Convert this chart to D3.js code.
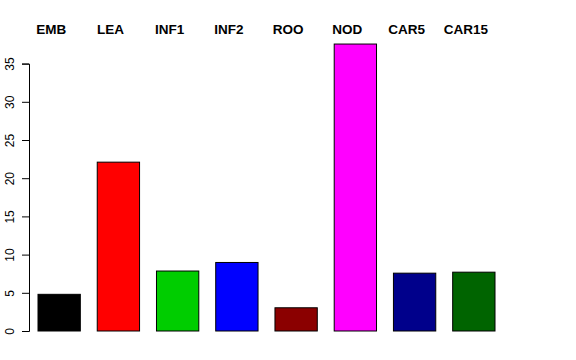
<!DOCTYPE html>
<meta charset="utf-8">
<style>
	body { margin: 0; background: #fff; }
	.bar { stroke: #000; stroke-width: 1; }
	.lab { font-family: "Liberation Sans", Arial, sans-serif; font-weight: bold; font-size: 13.5px; }
	.tick text { font-family: "Liberation Sans", Arial, sans-serif; font-size: 12px; }
</style>
<body>
<script src="https://d3js.org/d3.v7.min.js"></script>
<script>
var categories = ["EMB", "LEA", "INF1", "INF2", "ROO", "NOD", "CAR5", "CAR15"];
var values = [4.8, 22.1, 7.85, 8.97, 3.04, 37.56, 7.57, 7.7];
var colors = ["#000000", "#ff0000", "#00cd00", "#0000ff", "#8b0000", "#ff00ff", "#00008b", "#006400"];
var yTicks = [0, 5, 10, 15, 20, 25, 30, 35];

(function(){
	var width = 576, height = 360;

	var svg = d3.select("body").append("svg")
		.attr("width", width)
		.attr("height", height);

	// R barplot, space = 0.4
	var x = d3.scaleBand()
		.domain(categories)
		.range([38, 495])
		.paddingInner(0.4 / 1.4)
		.paddingOuter(0);

	var y = d3.scaleLinear()
		.domain([0, 35])
		.range([331, 63.6]);

	svg.selectAll(".bar")
		.data(values)
		.enter()
		.append("rect")
		.attr("class", "bar")
		.attr("x", function(d, i) { return x(categories[i]); })
		.attr("y", function(d) { return y(d); })
		.attr("width", x.bandwidth())
		.attr("height", function(d) { return y(0) - y(d); })
		.attr("fill", function(d, i) { return colors[i]; });

	// labels sit above the plot, a little left of each bar centre
	svg.selectAll(".lab")
		.data(categories)
		.enter()
		.append("text")
		.attr("class", "lab")
		.attr("x", function(d) { return x(d) + x.bandwidth() / 2 - 8; })
		.attr("y", 34)
		.attr("text-anchor", "middle")
		.text(function(d) { return d; });

	var ax = svg.append("g")
		.attr("transform", "translate(29,0)")
		.call(d3.axisLeft(y).tickValues(yTicks).tickSize(7).tickPadding(0));
	ax.select(".domain").attr("stroke", "#000");
	ax.selectAll(".tick line").attr("stroke", "#000");
	ax.selectAll(".tick text")
		.attr("x", null).attr("dy", null)
		.attr("transform", "translate(-15,0) rotate(-90)")
		.attr("text-anchor", "middle")
		.attr("fill", "#000");
})();
</script>
